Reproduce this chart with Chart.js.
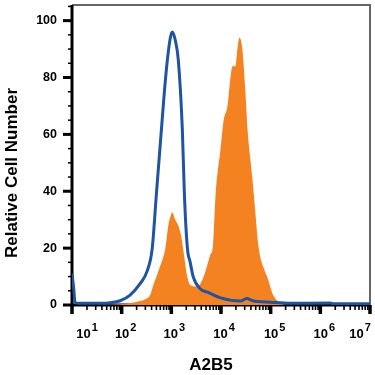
<!DOCTYPE html>
<html>
<head>
<meta charset="utf-8">
<script src="https://cdn.jsdelivr.net/npm/chart.js@4.4.1/dist/chart.umd.min.js"></script>
<style>
html, body { margin: 0; padding: 0; background: #fff; }
</style>
</head>
<body>
<canvas id="histo" width="375" height="375"></canvas>
<script>
// isotype control (blue outline)
var controlX = [10, 10.8, 11.5, 13, 20, 37, 59, 93, 148, 235, 327, 413, 500, 630, 725, 830, 955, 1045, 1205, 1384, 1667, 1832, 2105, 2400, 2750, 3860, 5350, 9800, 24700, 33000, 43500, 100000, 250000, 1600000, 1800000, 10000000];
var controlY = [11, 6, 1, 0.6, 0.6, 0.6, 0.8, 1.5, 3.5, 7.5, 12, 20, 39, 61.5, 75, 86, 94, 96, 93, 86, 61.5, 39, 20, 15, 10, 5.6, 4.5, 2.5, 1.4, 2.3, 1.5, 1, 0.6, 0.7, 0.4, 0.4];

// A2B5 stained (orange filled)
var stainedX = [10, 93, 187, 297, 375, 435, 550, 690, 760, 870, 955, 1045, 1200, 1380, 1590, 1820, 2090, 2400, 3160, 3860, 4900, 6200, 6800, 7800, 9800, 11300, 13500, 15500, 17000, 19500, 21400, 23400, 26900, 31000, 34300, 41400, 45700, 57600, 72400, 87000, 109000, 138000, 174000, 250000, 10000000];
var stainedY = [0, 0.3, 1, 2, 3.5, 7, 12, 17, 20, 28, 31, 32.5, 30, 28, 24, 17, 10, 7, 6.5, 7.5, 12, 18, 20, 39, 55, 65, 70, 80, 84, 84, 90, 94, 90, 75, 61.5, 47, 39, 20, 13, 9.5, 4, 1.4, 0.3, 0, 0];

var yTickValues = [0, 20, 40, 60, 80, 100];
var xTickExps = [1, 2, 3, 4, 5, 6, 7];
var xLabelShift = [15, 4, 3, 3, 4, 4, -10];

function toPoints(xs, ys) {
    var pts = [];
    for (var i = 0; i < xs.length; i++) pts.push({x: xs[i], y: ys[i]});
    return pts;
}

var axesPlugin = {
    id: 'axesPlugin',
    beforeDatasetsDraw: function(chart) {
        var ctx = chart.ctx, a = chart.chartArea;
        var xs = chart.scales.x, ys = chart.scales.y;
        ctx.save();
        // thin grey frame top + right
        ctx.strokeStyle = '#666';
        ctx.lineWidth = 2;
        ctx.beginPath();
        ctx.moveTo(a.left, a.top);
        ctx.lineTo(a.right, a.top);
        ctx.lineTo(a.right, a.bottom);
        ctx.stroke();

        ctx.strokeStyle = '#000';
        // y ticks, every 5
        for (var v = 0; v <= 105; v += 5) {
            var py = ys.getPixelForValue(v);
            var major = v % 20 == 0;
            ctx.lineWidth = major ? 3 : 1.5;
            ctx.beginPath();
            ctx.moveTo(a.left - (major ? 9 : 4), py);
            ctx.lineTo(a.left, py);
            ctx.stroke();
        }
        // x log ticks
        for (var e = 1; e <= 7; e++) {
            for (var m = 1; m <= 9; m++) {
                if (e == 7 && m > 1) break;
                var px = xs.getPixelForValue(m * Math.pow(10, e));
                var big = m == 1;
                ctx.lineWidth = big ? 3.5 : 1.6;
                ctx.beginPath();
                ctx.moveTo(px, a.bottom);
                ctx.lineTo(px, a.bottom + (big ? 9 : 5));
                ctx.stroke();
            }
        }
        // axis lines
        ctx.lineWidth = 3;
        ctx.beginPath();
        ctx.moveTo(a.left, a.top);
        ctx.lineTo(a.left, a.bottom + 1.5);
        ctx.moveTo(a.left - 1.5, a.bottom);
        ctx.lineTo(a.right, a.bottom);
        ctx.stroke();
        ctx.restore();
    },
    afterDraw: function(chart) {
        var ctx = chart.ctx, xs = chart.scales.x;
        ctx.save();
        ctx.fillStyle = '#000';
        ctx.textBaseline = 'alphabetic';
        for (var i = 0; i < xTickExps.length; i++) {
            var cx = xs.getPixelForValue(Math.pow(10, xTickExps[i])) + xLabelShift[i];
            ctx.font = 'bold 13px "Liberation Sans", Arial, sans-serif';
            var w1 = ctx.measureText('10').width;
            ctx.font = 'bold 11px "Liberation Sans", Arial, sans-serif';
            var w2 = ctx.measureText(String(xTickExps[i])).width;
            var x0 = cx - (w1 + w2 + 1) / 2;
            ctx.font = 'bold 13px "Liberation Sans", Arial, sans-serif';
            ctx.textAlign = 'left';
            ctx.fillText('10', x0, 338);
            ctx.font = 'bold 11px "Liberation Sans", Arial, sans-serif';
            ctx.fillText(String(xTickExps[i]), x0 + w1 + 1, 331);
        }
        // axis titles
        ctx.font = 'bold 17px "Liberation Sans", Arial, sans-serif';
        ctx.textAlign = 'center';
        ctx.textBaseline = 'middle';
        ctx.fillText('A2B5', 211, 365);
        ctx.translate(12, 173);
        ctx.rotate(-Math.PI / 2);
        ctx.fillText('Relative Cell Number', 0, 0);
        ctx.restore();
    }
};

var histo = document.getElementById('histo');
var myChart = new Chart(histo, {
    type: 'line',
    data: {
        datasets: [{
            label: 'Isotype control',
            data: toPoints(controlX, controlY),
            borderColor: 'rgb(30, 84, 162)',
            borderWidth: 3,
            fill: false,
            pointRadius: 0,
            cubicInterpolationMode: 'monotone',
            order: 0
        }, {
            label: 'A2B5',
            data: toPoints(stainedX, stainedY),
            borderColor: 'rgba(0,0,0,0)',
            borderWidth: 0,
            backgroundColor: 'rgb(245, 130, 32)',
            fill: 'origin',
            pointRadius: 0,
            cubicInterpolationMode: 'monotone',
            order: 1
        }]
    },
    options: {
        responsive: false,
        animation: false,
        layout: { padding: { left: 0, top: 5, right: 5, bottom: 0 } },
        plugins: { legend: { display: false }, tooltip: { enabled: false } },
        scales: {
            x: {
                type: 'logarithmic',
                min: 10,
                max: 10000000,
                grid: { display: false, drawTicks: false },
                border: { display: false },
                ticks: { display: false },
                afterFit: function(s) {
                    s.height = 70;
                    s.paddingLeft = 0; s.paddingRight = 0;
                }
            },
            y: {
                min: 0,
                max: 105.5,
                grid: { display: false, drawTicks: false },
                border: { display: false },
                ticks: {
                    color: '#000',
                    padding: 15,
                    font: { family: '"Liberation Sans", Arial, sans-serif', size: 12.5, weight: 'bold' }
                },
                afterBuildTicks: function(s) {
                    s.ticks = yTickValues.map(function(v) { return {value: v}; });
                },
                afterFit: function(s) {
                    s.width = 72;
                    s.paddingTop = 0; s.paddingBottom = 0;
                }
            }
        }
    },
    plugins: [axesPlugin]
});
</script>
</body>
</html>
